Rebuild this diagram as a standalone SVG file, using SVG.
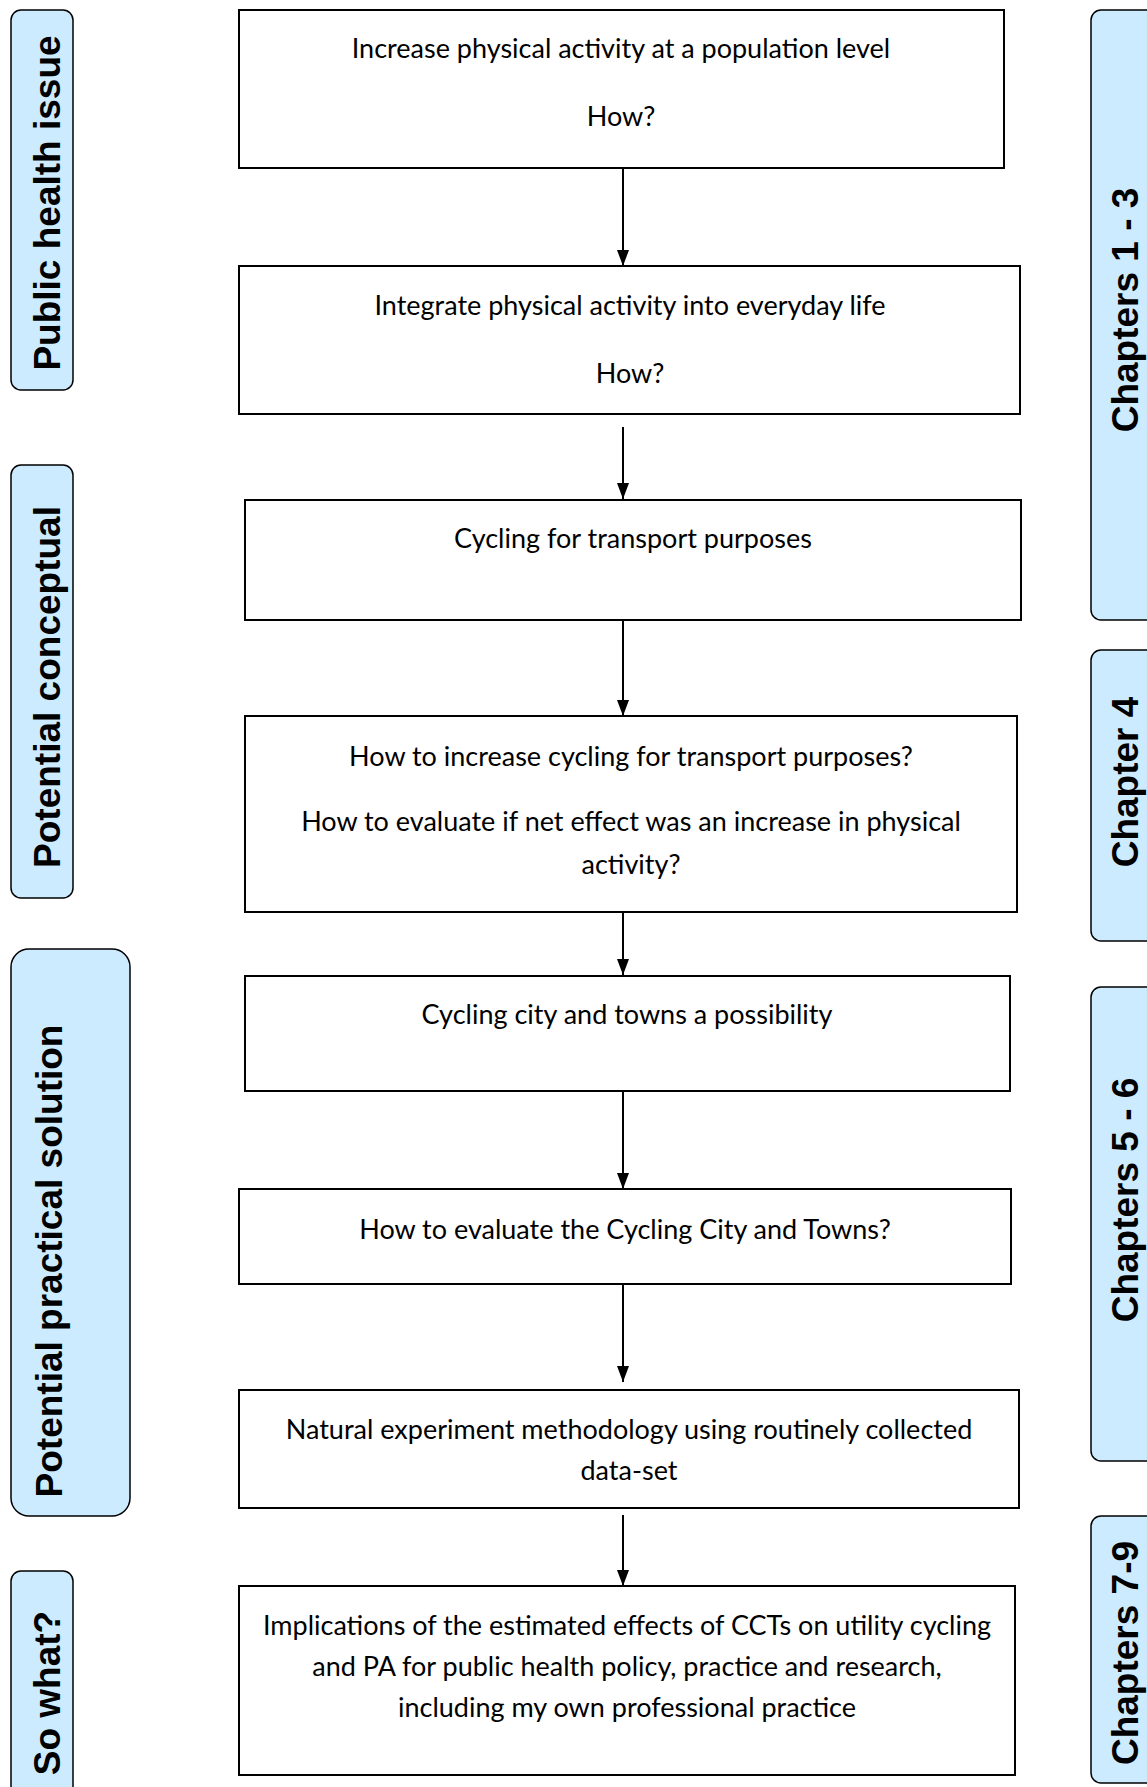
<svg xmlns="http://www.w3.org/2000/svg" width="1147" height="1787" viewBox="0 0 1147 1787">
<style>
.box{fill:#fff;stroke:#000;stroke-width:2}
.lab{fill:#CCEBFF;stroke:#000;stroke-width:1.5}
.t{font-family:Lato,"Open Sans",sans-serif;font-size:27px;fill:#000;text-anchor:middle}
.v{font-family:"Liberation Sans",Arial,sans-serif;font-weight:bold;font-size:37px;fill:#000;text-anchor:middle}
.c{stroke:#000;stroke-width:2;fill:none}
</style>
<defs>
<marker id="arr" viewBox="0 0 16 12" refX="16" refY="6" markerWidth="16" markerHeight="12" markerUnits="userSpaceOnUse" orient="auto">
<path d="M0,0 L16,6 L0,12 z" fill="#000"/>
</marker>
</defs>

<g id="side-public-health-issue"><rect class="lab" x="11" y="10" width="62" height="380" rx="10"/><text class="v" transform="translate(60,203) rotate(-90)">Public health issue</text></g>
<g id="side-potential-conceptual"><rect class="lab" x="11" y="465" width="62" height="433" rx="10"/><text class="v" transform="translate(60,687) rotate(-90)">Potential conceptual</text></g>
<g id="side-potential-practical-solution"><rect class="lab" x="11" y="949" width="119" height="567" rx="18"/><text class="v" transform="translate(62,1261) rotate(-90)">Potential practical solution</text></g>
<g id="side-so-what"><rect class="lab" x="11" y="1571" width="62" height="240" rx="10"/><text class="v" transform="translate(60,1693) rotate(-90)">So what?</text></g>

<g id="side-chapters-1-3"><rect class="lab" x="1091" y="10" width="80" height="610" rx="10"/><text class="v" transform="translate(1138,310) rotate(-90)">Chapters 1 - 3</text></g>
<g id="side-chapter-4"><rect class="lab" x="1091" y="650" width="80" height="291" rx="10"/><text class="v" transform="translate(1138,782) rotate(-90)">Chapter 4</text></g>
<g id="side-chapters-5-6"><rect class="lab" x="1091" y="987" width="80" height="474" rx="10"/><text class="v" transform="translate(1138,1200) rotate(-90)">Chapters 5 - 6</text></g>
<g id="side-chapters-7-9"><rect class="lab" x="1091" y="1516" width="80" height="267" rx="10"/><text class="v" transform="translate(1138,1653) rotate(-90)">Chapters 7-9</text></g>

<g id="connectors">
<line class="c" x1="623" y1="168" x2="623" y2="266" marker-end="url(#arr)"/>
<line class="c" x1="623" y1="427" x2="623" y2="499" marker-end="url(#arr)"/>
<line class="c" x1="623" y1="620" x2="623" y2="716" marker-end="url(#arr)"/>
<line class="c" x1="623" y1="912" x2="623" y2="975" marker-end="url(#arr)"/>
<line class="c" x1="623" y1="1091" x2="623" y2="1189" marker-end="url(#arr)"/>
<line class="c" x1="623" y1="1284" x2="623" y2="1382" marker-end="url(#arr)"/>
<line class="c" x1="623" y1="1515" x2="623" y2="1586" marker-end="url(#arr)"/>
</g>

<g id="n1"><rect class="box" x="239" y="10" width="765" height="158"/><text class="t" x="621" y="58">Increase physical activity at a population level</text><text class="t" x="621" y="126">How?</text></g>
<g id="n2"><rect class="box" x="239" y="266" width="781" height="148"/><text class="t" x="630" y="315">Integrate physical activity into everyday life</text><text class="t" x="630" y="383">How?</text></g>
<g id="n3"><rect class="box" x="245" y="500" width="776" height="120"/><text class="t" x="633" y="548">Cycling for transport purposes</text></g>
<g id="n4"><rect class="box" x="245" y="716" width="772" height="196"/><text class="t" x="631" y="766">How to increase cycling for transport purposes?</text><text class="t" x="631" y="831">How to evaluate if net effect was an increase in physical</text><text class="t" x="631" y="874">activity?</text></g>
<g id="n5"><rect class="box" x="245" y="976" width="765" height="115"/><text class="t" x="627" y="1024">Cycling city and towns a possibility</text></g>
<g id="n6"><rect class="box" x="239" y="1189" width="772" height="95"/><text class="t" x="625" y="1239">How to evaluate the Cycling City and Towns?</text></g>
<g id="n7"><rect class="box" x="239" y="1390" width="780" height="118"/><text class="t" x="629" y="1439">Natural experiment methodology using routinely collected</text><text class="t" x="629" y="1480">data-set</text></g>
<g id="n8"><rect class="box" x="239" y="1586" width="776" height="189"/><text class="t" x="627" y="1635">Implications of the estimated effects of CCTs on utility cycling</text><text class="t" x="627" y="1676">and PA for public health policy, practice and research,</text><text class="t" x="627" y="1717">including my own professional practice</text></g>
</svg>
